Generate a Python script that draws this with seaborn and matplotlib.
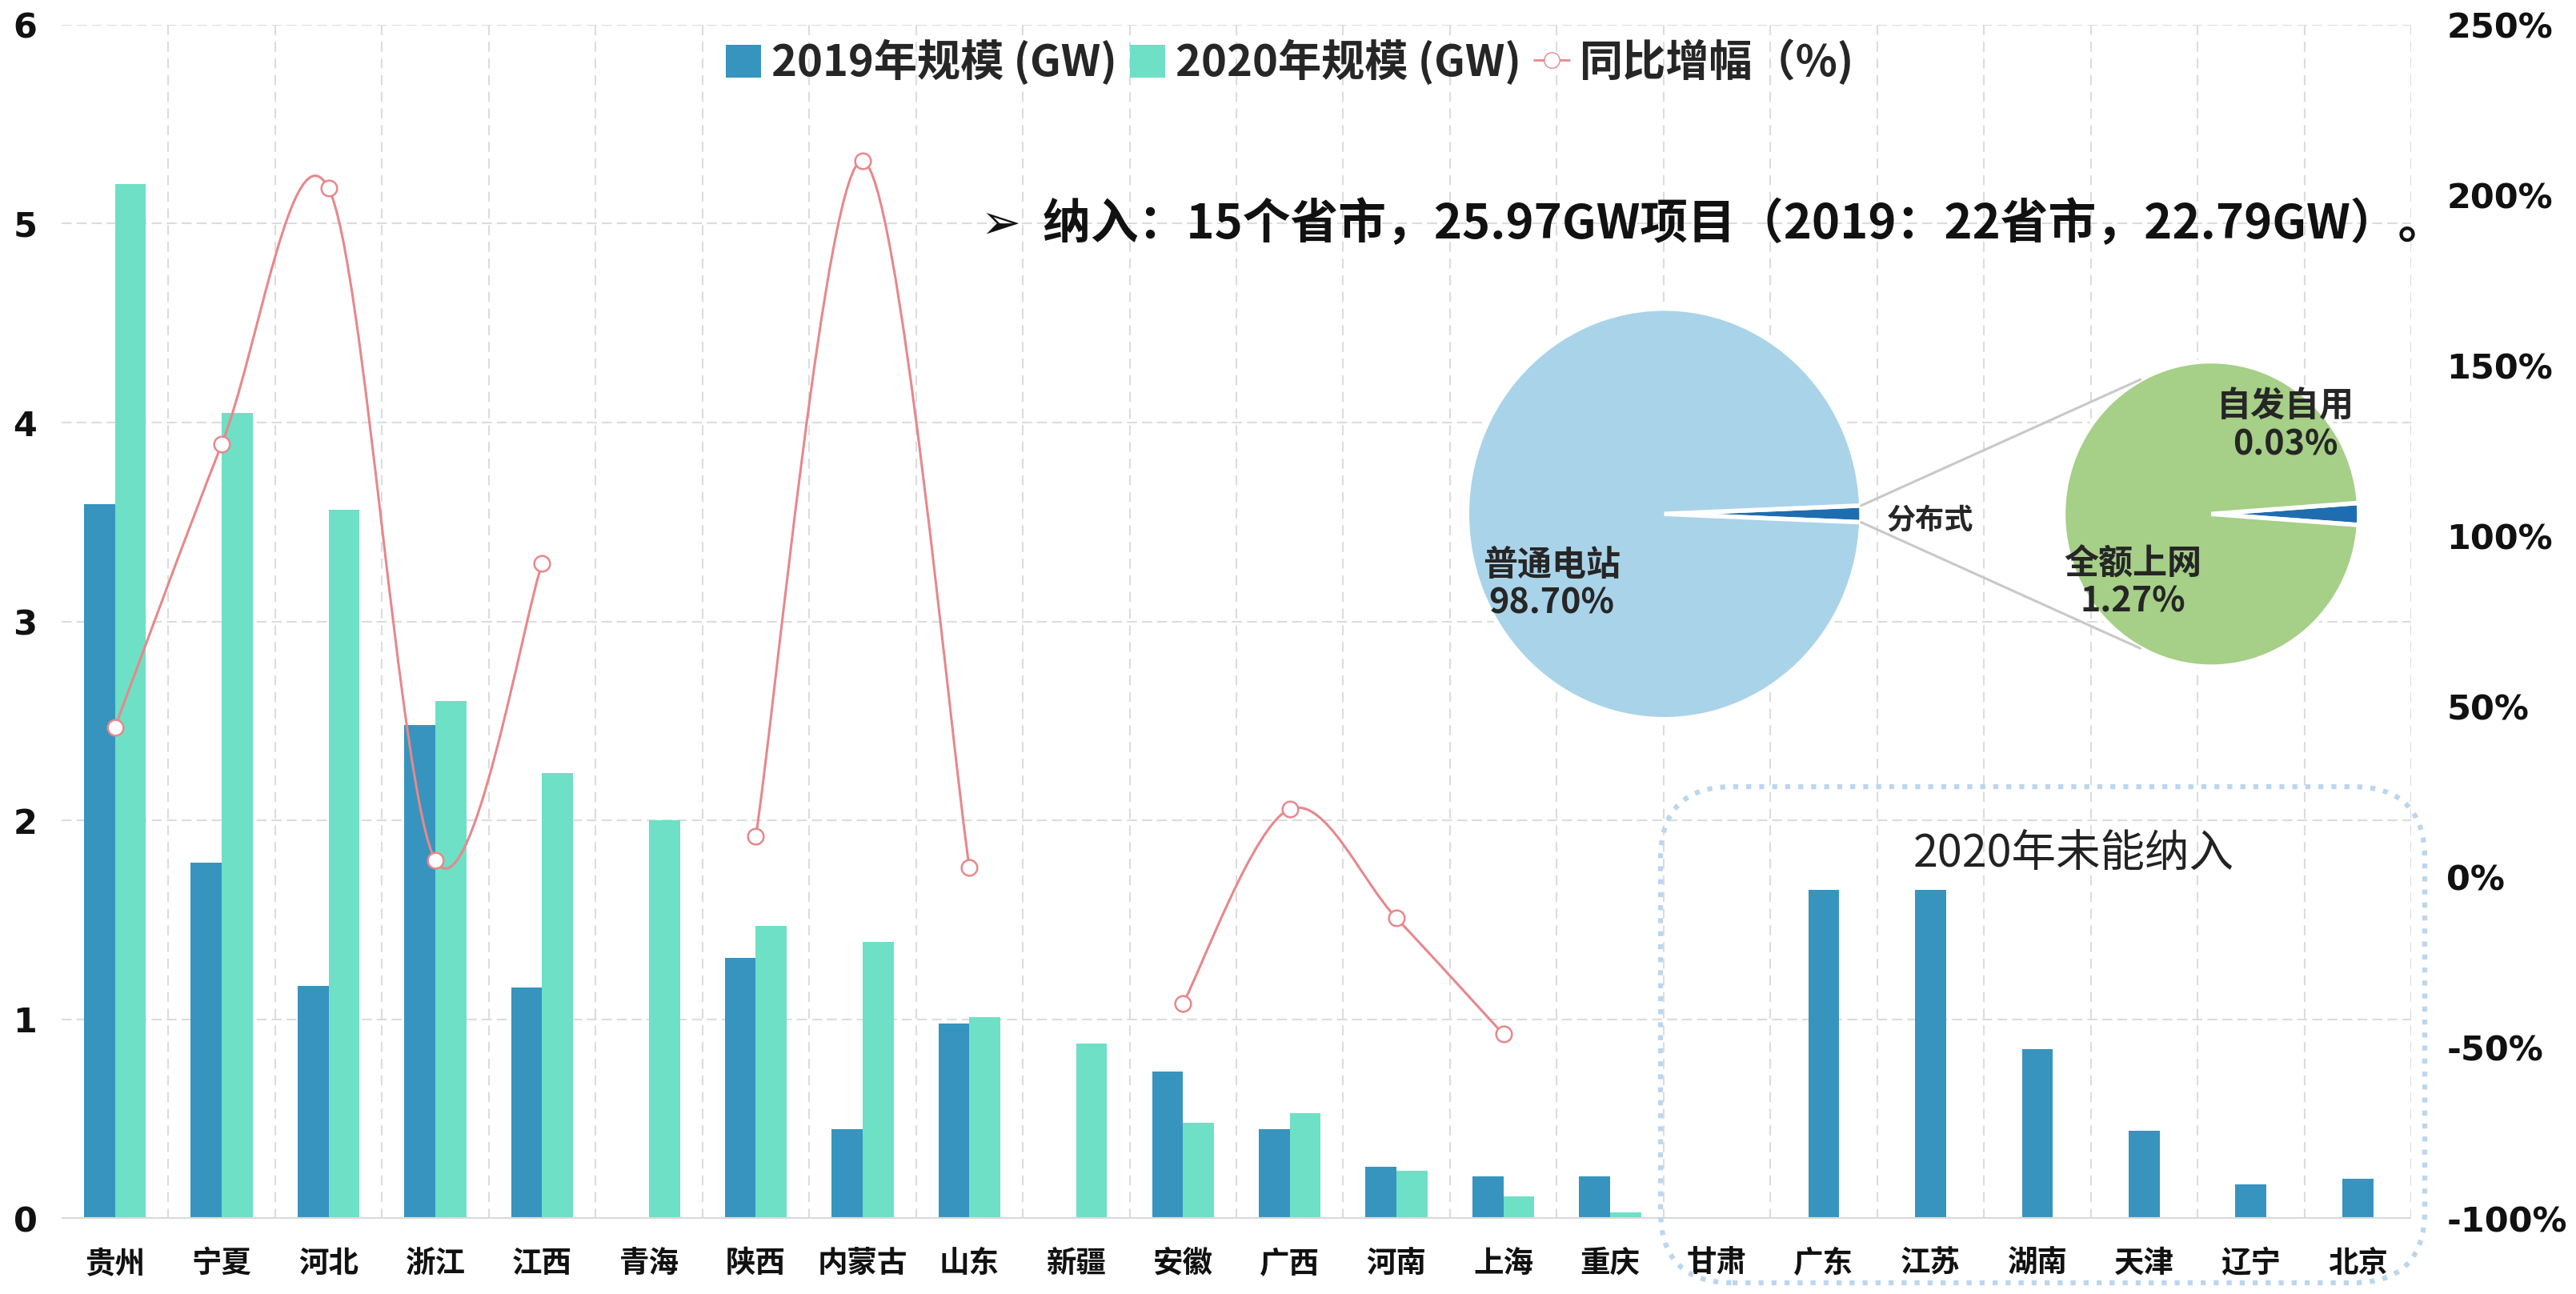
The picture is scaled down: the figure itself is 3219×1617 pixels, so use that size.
import numpy as np
import pandas as pd
import seaborn as sns
import matplotlib.pyplot as plt
from matplotlib.path import Path
from matplotlib.patches import PathPatch, Patch, FancyBboxPatch, ConnectionPatch
from matplotlib.lines import Line2D

sns.set_theme(style='white')
plt.rcParams['font.family'] = ['Noto Sans CJK SC', 'DejaVu Sans']
plt.rcParams['axes.unicode_minus'] = False

provinces = ['贵州', '宁夏', '河北', '浙江', '江西', '青海', '陕西', '内蒙古', '山东', '新疆', '安徽',
             '广西', '河南', '上海', '重庆', '甘肃', '广东', '江苏', '湖南', '天津', '辽宁', '北京']
gw_2019 = [3.59, 1.79, 1.17, 2.48, 1.16, 0.0, 1.31, 0.45, 0.98, 0.0, 0.74,
           0.45, 0.26, 0.21, 0.21, 0.0, 1.65, 1.65, 0.85, 0.44, 0.17, 0.20]
gw_2020 = [5.20, 4.05, 3.56, 2.60, 2.24, 2.00, 1.47, 1.39, 1.01, 0.88, 0.48,
           0.53, 0.24, 0.11, 0.03]
yoy_pct = [44, 127, 202, 5, 92, np.nan, 12, 210, 3, np.nan, -37,
           20, -12, -46, np.nan, np.nan, np.nan, np.nan, np.nan, np.nan, np.nan, np.nan]

pie_main_labels = ['分布式', '普通电站']
pie_main_vals = [1.30, 98.70]
pie_sub_labels = ['自发自用', '全额上网']
pie_sub_vals = [0.03, 1.27]

c2019 = '#3794BE'
c2020 = '#6DE0C6'
cline = '#E8878C'
grid_c = '#DCDCDC'

n_in = len(gw_2020)
df_in = pd.DataFrame({
    'province': provinces[:n_in] * 2,
    'gw': gw_2019[:n_in] + gw_2020,
    'year': ['2019'] * n_in + ['2020'] * n_in,
})
df_out = pd.DataFrame({'province': provinces[n_in:], 'gw': gw_2019[n_in:]})

fig = plt.figure(figsize=(32.19, 16.17), dpi=100)
ax = fig.add_axes([0.0239, 0.0584, 0.9121, 0.9226])

sns.barplot(data=df_in, x='province', y='gw', hue='year', order=provinces,
            palette=[c2019, c2020], width=0.58, gap=0, saturation=1, legend=False,
            linewidth=0, ax=ax)
sns.barplot(data=df_out, x='province', y='gw', order=provinces,
            color=c2019, width=0.29, saturation=1, linewidth=0, ax=ax)

ax.set_xlim(-0.5, len(provinces) - 0.5)
ax.set_ylim(0, 6)
ax.set_xlabel('')
ax.set_ylabel('')
ax.set_yticks(range(7))
ax.set_xticks(np.arange(len(provinces)) + 0.5, minor=True)
ax.grid(True, axis='y', which='major', color=grid_c, linestyle=(0, (6, 3)), linewidth=1.5)
ax.grid(True, axis='x', which='minor', color=grid_c, linestyle=(0, (6, 4)), linewidth=1.5)
ax.grid(False, axis='x', which='major')
ax.set_axisbelow(True)
for s in ax.spines.values():
    s.set_visible(False)
ax.axhline(0, color='#D9D9D9', linewidth=3, zorder=1)
ax.tick_params(axis='both', which='both', length=0)
ax.tick_params(axis='x', pad=26)
ax.tick_params(axis='y', pad=22)
for t in ax.get_xticklabels():
    t.set_fontsize(27)
    t.set_fontweight('bold')
    t.set_color('#111111')
for t in ax.get_yticklabels():
    t.set_fontsize(31)
    t.set_fontweight('bold')
    t.set_family('DejaVu Sans')
    t.set_color('#111111')

# YoY line on right axis
ax2 = ax.twinx()
ax2.set_ylim(-100, 250)
ax2.set_yticks(range(-100, 251, 50))
ax2.set_yticklabels([f'{v}%' for v in range(-100, 251, 50)])
for s in ax2.spines.values():
    s.set_visible(False)
ax2.tick_params(axis='y', length=0, pad=32)
for t in ax2.get_yticklabels():
    t.set_fontsize(31)
    t.set_fontweight('bold')
    t.set_family('DejaVu Sans')
    t.set_color('#111111')

xs_all = np.arange(len(provinces))
ys_all = np.array(yoy_pct, dtype=float)
valid = ~np.isnan(ys_all)
runs = []
cur = []
for i in range(len(ys_all)):
    if valid[i]:
        cur.append(i)
    elif cur:
        runs.append(cur)
        cur = []
if cur:
    runs.append(cur)

# smooth curve through each run of points (Catmull-Rom as cubic Bezier)
for run in runs:
    xs = xs_all[run]
    ys = ys_all[run]
    n = len(xs)
    verts = [(xs[0], ys[0])]
    codes = [Path.MOVETO]
    for i in range(n - 1):
        a = i - 1 if i > 0 else i
        b = i + 2 if i + 2 < n else i + 1
        c1 = (xs[i] + (xs[i + 1] - xs[a]) / 6, ys[i] + (ys[i + 1] - ys[a]) / 6)
        c2 = (xs[i + 1] - (xs[b] - xs[i]) / 6, ys[i + 1] - (ys[b] - ys[i]) / 6)
        verts += [c1, c2, (xs[i + 1], ys[i + 1])]
        codes += [Path.CURVE4] * 3
    ax2.add_patch(PathPatch(Path(verts, codes), facecolor='none', edgecolor=cline, lw=2.2, zorder=3))

sns.scatterplot(x=xs_all[valid], y=ys_all[valid], ax=ax2, s=200, color='white',
                edgecolor=cline, linewidth=1.8, zorder=4)

# legend
handles = [Patch(facecolor=c2019, edgecolor='none'),
           Patch(facecolor=c2020, edgecolor='none'),
           Line2D([0], [0], color=cline, lw=2, marker='o', markersize=14,
                  markerfacecolor='white', markeredgecolor=cline)]
labels = ['2019年规模 (GW)', '2020年规模 (GW)', '同比增幅（%)']
leg = ax2.legend(handles, labels, loc='center', bbox_to_anchor=(0.523, 0.968), ncol=3,
                 frameon=False, handlelength=0.8, handleheight=0.8, handletextpad=0.25,
                 columnspacing=0.3, prop={'size': 39, 'weight': 'bold'})

# headline text
fig.text(0.381, 0.826, '➢  纳入：15个省市，25.97GW项目（2019：22省市，22.79GW）。',
         fontsize=43, fontweight='bold', ha='left', va='center', color='#111111')

# dotted rounded box for provinces not included
box = FancyBboxPatch((20.75, 0.14), 9.55, 6.2, boxstyle='round,pad=0,rounding_size=0.9',
                     transform=fig.dpi_scale_trans, facecolor='none', edgecolor='#BCD6EE',
                     linestyle=(0, (1, 1.6)), linewidth=4.5, zorder=5)
fig.add_artist(box)
fig.text(0.805, 0.340, '2020年未能纳入', fontsize=40, ha='center', va='center', color='#222222')

# pie of pie
axp = fig.add_axes([0.5695, 0.4442, 0.1531, 0.3173])
axp.pie(pie_main_vals, colors=['#1F6DB0', '#A9D3E8'], startangle=-360 * pie_main_vals[0] / 100 / 2,
        counterclock=True, radius=1, wedgeprops={'edgecolor': 'white', 'linewidth': 4})
axp.set_aspect('auto')
axp.set_xlim(-1, 1)
axp.set_ylim(-1, 1)
axp.text(1.13, -0.03, pie_main_labels[0], fontsize=26, fontweight='bold', ha='left', va='center',
         clip_on=False)
axp.text(-0.57, -0.34, f'{pie_main_labels[1]}\n{pie_main_vals[1]:.2f}%', fontsize=31,
         fontweight='bold', ha='center', va='center', linespacing=1.1)

sub_total = sum(pie_sub_vals)
axs = fig.add_axes([0.8010, 0.4848, 0.1148, 0.2360])
axs.pie(pie_sub_vals, colors=['#1F6DB0', '#A6CF87'], startangle=-360 * pie_sub_vals[0] / sub_total / 2,
        counterclock=True, radius=1, wedgeprops={'edgecolor': 'white', 'linewidth': 4})
axs.set_aspect('auto')
axs.set_xlim(-1, 1)
axs.set_ylim(-1, 1)
axs.text(0.5, 0.58, f'{pie_sub_labels[0]}\n{pie_sub_vals[0]:.2f}%', fontsize=31,
         fontweight='bold', ha='center', va='center', linespacing=1.1)
axs.text(-0.53, -0.45, f'{pie_sub_labels[1]}\n{pie_sub_vals[1]:.2f}%', fontsize=31,
         fontweight='bold', ha='center', va='center', linespacing=1.1)

half = np.deg2rad(360 * pie_main_vals[0] / 100 / 2)
for sgn in (1, -1):
    con = ConnectionPatch(xyA=(np.cos(half), sgn * np.sin(half)), coordsA='data', axesA=axp,
                          xyB=(-0.48, sgn * 0.88), coordsB='data', axesB=axs,
                          color='#C8C8C8', lw=2.2)
    fig.add_artist(con)

fig.savefig('out.png', dpi=100, facecolor='white')
